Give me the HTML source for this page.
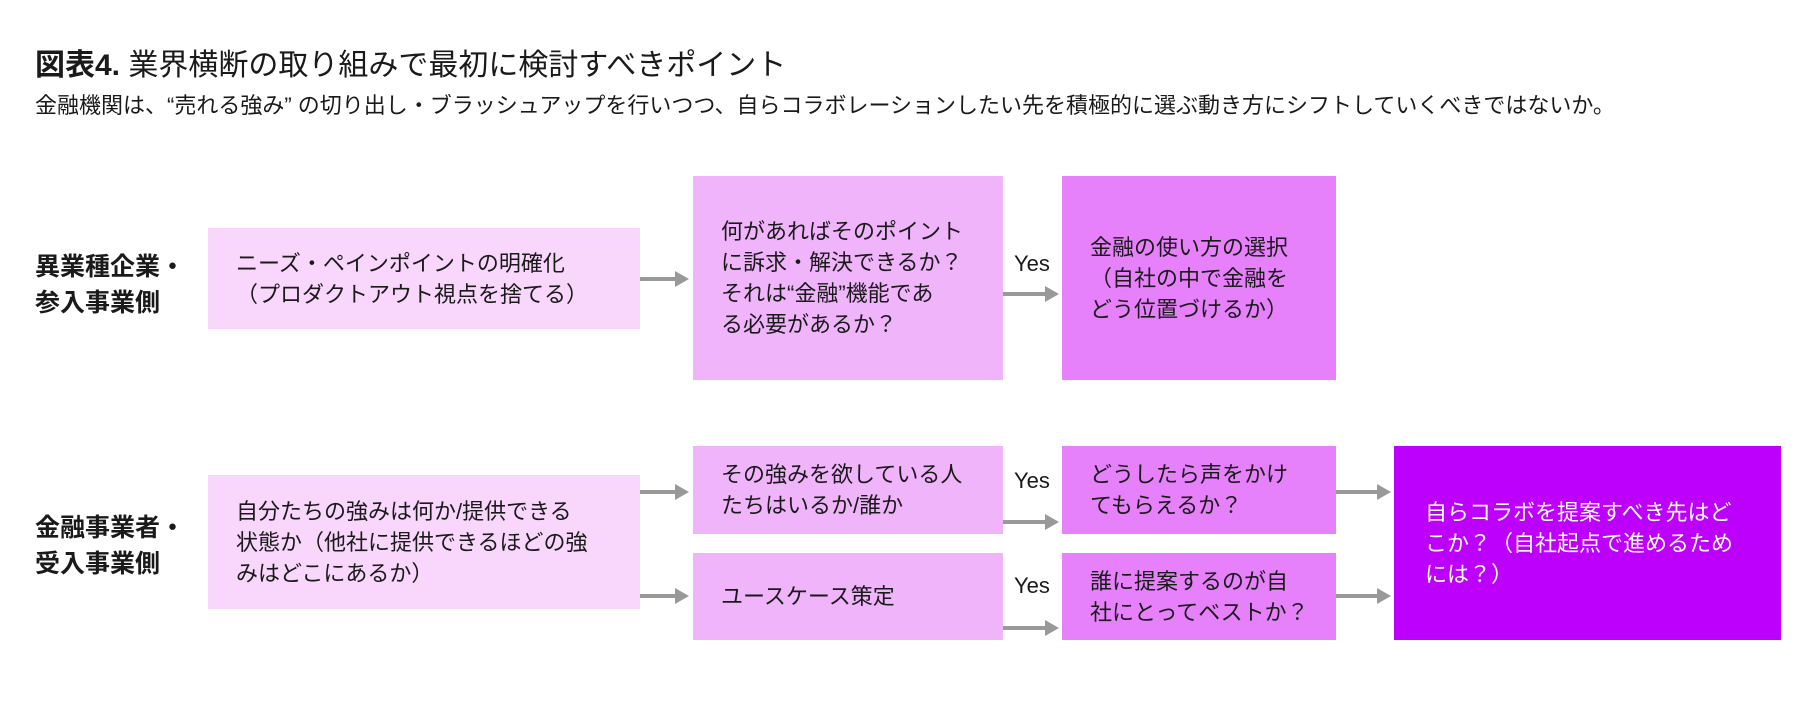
<!DOCTYPE html>
<html><head><meta charset="utf-8"><style>
*{margin:0;padding:0;box-sizing:border-box}
body{width:1808px;height:702px;background:#fff;position:relative;overflow:hidden;font-family:"Liberation Sans","Noto Sans CJK JP",sans-serif;color:#1a1a1a}
.a{position:absolute}
.box{position:absolute;display:flex;align-items:center;font-size:22px;line-height:31px;padding-left:28px;padding-right:4px;white-space:nowrap}
.l1{background:#f9d6fc}.l2{background:#f0b4fb}.l3{background:#e680fb}.l4{background:#bd00fb;color:#fff}
.lab{position:absolute;font-size:25px;font-weight:bold;line-height:36px;left:35px}
.yes{position:absolute;font-size:22px}
</style></head><body>
<div class="a" style="left:35px;top:40px;font-size:30px;white-space:nowrap"><b>図表4.</b> 業界横断の取り組みで最初に検討すべきポイント</div>
<div class="a" style="left:35px;top:88px;font-size:22px;white-space:nowrap">金融機関は、“売れる強み” の切り出し・ブラッシュアップを行いつつ、自らコラボレーションしたい先を積極的に選ぶ動き方にシフトしていくべきではないか。</div>

<div class="lab" style="top:249px">異業種企業・<br>参入事業側</div>
<div class="lab" style="top:510px">金融事業者・<br>受入事業側</div>

<div class="box l1" style="left:208px;top:228px;width:432px;height:101px">ニーズ・ペインポイントの明確化<br>（プロダクトアウト視点を捨てる）</div>
<div class="box l2" style="left:693px;top:176px;width:310px;height:204px">何があればそのポイント<br>に訴求・解決できるか？<br>それは“金融”機能であ<br>る必要があるか？</div>
<div class="box l3" style="left:1062px;top:176px;width:274px;height:204px">金融の使い方の選択<br>（自社の中で金融を<br>どう位置づけるか）</div>

<div class="box l1" style="left:208px;top:475px;width:432px;height:134px">自分たちの強みは何か/提供できる<br>状態か（他社に提供できるほどの強<br>みはどこにあるか）</div>
<div class="box l2" style="left:693px;top:446px;width:310px;height:88px">その強みを欲している人<br>たちはいるか/誰か</div>
<div class="box l2" style="left:693px;top:553px;width:310px;height:87px">ユースケース策定</div>
<div class="box l3" style="left:1062px;top:446px;width:274px;height:88px">どうしたら声をかけ<br>てもらえるか？</div>
<div class="box l3" style="left:1062px;top:553px;width:274px;height:87px">誰に提案するのが自<br>社にとってベストか？</div>
<div class="box l4" style="left:1394px;top:446px;width:387px;height:194px;padding-left:31px">自らコラボを提案すべき先はど<br>こか？（自社起点で進めるため<br>には？）</div>

<div class="yes" style="left:1014px;top:251px">Yes</div>
<div class="yes" style="left:1014px;top:468px">Yes</div>
<div class="yes" style="left:1014px;top:573px">Yes</div>

<svg class="a" style="left:0;top:0" width="1808" height="702">
<defs><marker id="h" markerWidth="4" markerHeight="4" refX="0.5" refY="2" orient="auto" markerUnits="strokeWidth"><path d="M0,0 L3.5,2 L0,4Z" fill="#999"/></marker></defs>
<g stroke="#999" stroke-width="4" marker-end="url(#h)">
<line x1="640" y1="279" x2="677" y2="279"/>
<line x1="1003" y1="294" x2="1047" y2="294"/>
<line x1="640" y1="492" x2="677" y2="492"/>
<line x1="640" y1="596" x2="677" y2="596"/>
<line x1="1003" y1="522" x2="1047" y2="522"/>
<line x1="1003" y1="628" x2="1047" y2="628"/>
<line x1="1336" y1="492" x2="1379" y2="492"/>
<line x1="1336" y1="596" x2="1379" y2="596"/>
</g></svg>
</body></html>
